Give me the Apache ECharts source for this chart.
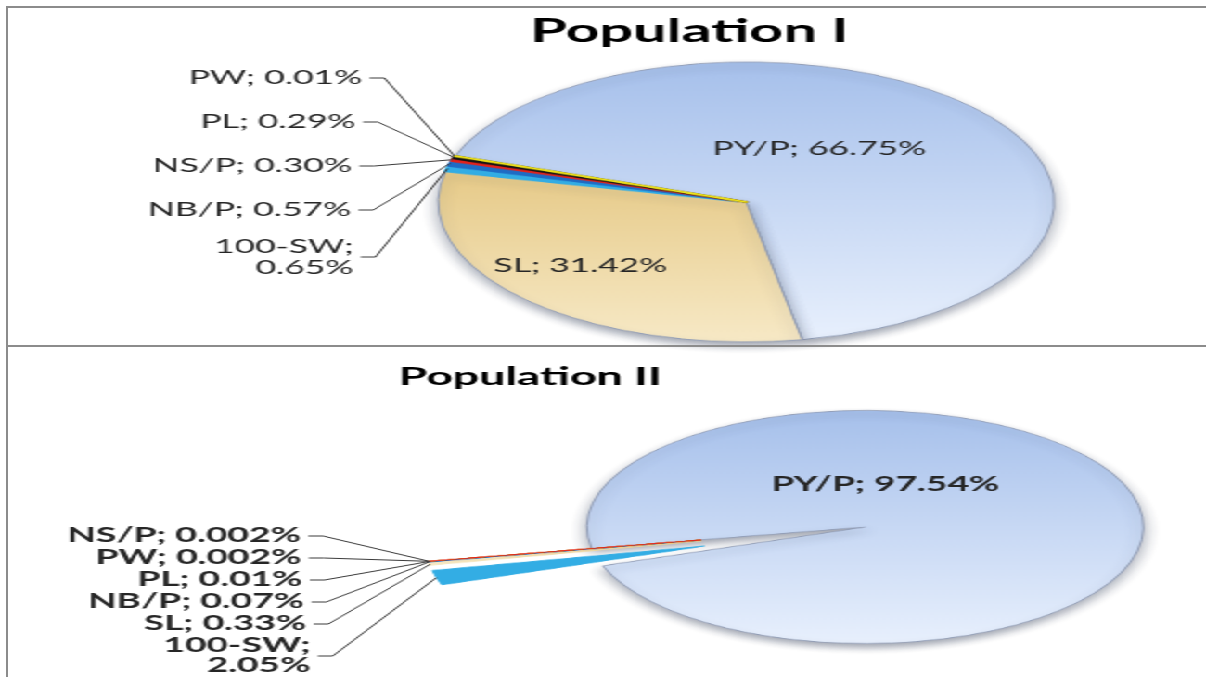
<!DOCTYPE html>
<html>
<head>
<meta charset="utf-8">
<title>Population I / Population II</title>
<script src="https://cdn.jsdelivr.net/npm/echarts@6/dist/echarts.min.js"></script>
<style>
  html, body { margin: 0; padding: 0; background: #fff; }
  body { width: 1206px; height: 677px; position: relative; overflow: hidden; }
  #stage { position: absolute; left: 0; top: 0; width: 650px; height: 677px; transform-origin: 0 0; }
  .pie { position: absolute; left: 0; top: 0; width: 650px; transform-origin: 0 0; }
  #labels { position: absolute; left: 0; top: 0; width: 650px; height: 677px; }
  .rule { position: absolute; background: #8c8c8c; }
</style>
</head>
<body>
<div id="stage">
  <div id="pieI" class="pie"></div>
  <div id="pieII" class="pie"></div>
  <div id="labels"></div>
</div>
<!-- frame lines around the two panels -->
<div class="rule" style="left:7px;top:6px;width:1199px;height:2px"></div>
<div class="rule" style="left:6px;top:6px;width:2px;height:671px"></div>
<div class="rule" style="left:7px;top:345px;width:1199px;height:2px"></div>
<script>
// ---- data ----
const titles = ['Population I', 'Population II'];

// Population I, in drawing order (clockwise from the start angle)
const catsI = ['PY/P', 'SL', '100-SW', 'NB/P', 'NS/P', 'PL', 'PW'];
const valsI = [66.75, 31.42, 0.65, 0.57, 0.30, 0.29, 0.01];

// Population II, in drawing order
const catsII = ['PY/P', '100-SW', 'SL', 'NB/P', 'PL', 'PW', 'NS/P'];
const valsII = [97.54, 2.05, 0.33, 0.07, 0.01, 0.002, 0.002];

// labels that break after the category name
const wrapNames = ['100-SW'];

// ---- look ----
const SX = 1206 / 650;   // the whole figure is drawn wide

function grad(top, bottom) {
  return new echarts.graphic.LinearGradient(0, 0, 0, 1, [
    { offset: 0, color: top }, { offset: 1, color: bottom }
  ]);
}
const sliceColors = {
  'PY/P': grad('#a6c0eb', '#e8f0fd'),
  'SL': grad('#e6ca88', '#f7e9c6'),
  '100-SW': '#33ade4',
  'NB/P': '#1f6cc4',
  'NS/P': '#e3221c',
  'PL': '#151515',
  'PW': '#efe21a'
};

const panels = [
  {
    el: 'pieI', cats: catsI, vals: valsI, title: titles[0],
    cx: 402.2, cy: 202, r: 166, tilt: 0.843, start: 160.8, explode: 0, bigCount: 2,
    sliver: 2.2,
    titleX: 366.6, titleTop: 11, titleSize: 32,
    font: { fontSize: 19, fontWeight: 'normal', lineHeight: 22, padding: [10, 0] },
    wrapFont: { lineHeight: 21, padding: [3, 0] },
    labelBox: { left: 0, top: 0, width: 650, height: 282 },
    len: 40, len2: 8,
    inner: { center: [375.6, 206], r: 168 }
  },
  {
    el: 'pieII', cats: catsII, vals: valsII, title: titles[1],
    cx: 466.3, cy: 527, r: 150, tilt: 0.777, start: 190.6, explode: 90, bigCount: 1,
    sliver: 1.0,
    titleX: 280.7, titleTop: 359, titleSize: 25,
    font: { fontSize: 20, fontWeight: 'bold', lineHeight: 20, padding: [0, 0] },
    wrapFont: { lineHeight: 20, padding: [0, 0] },
    labelBox: { left: 0, top: 0, width: 650, height: 677 },
    len: 58, len2: 8,
    inner: { center: [445.3, 492.8], r: 60 }
  }
];

function pct(v) { return v.toFixed(v < 0.01 ? 3 : 2) + '%'; }
function wraps(name) { return wrapNames.indexOf(name) >= 0; }
function labelText(p) {
  return p.name + ';' + (wraps(p.name) ? '\n' : ' ') + pct(p.value);
}
function sum(a) { return a.reduce((s, v) => s + v, 0); }

// ---- visible pies (drawn tall, then flattened by the tilt) ----
function pieSeries(p) {
  return {
    type: 'pie', silent: true, animation: false, clockwise: true,
    startAngle: p.start,
    center: [p.cx, p.cy / p.tilt], radius: p.r,
    selectedMode: p.explode > 0 ? 'multiple' : false,
    selectedOffset: p.explode,
    label: { show: false }, labelLine: { show: false },
    emphasis: { disabled: true },
    data: p.cats.map((name, i) => {
      const small = i >= p.bigCount;
      const c = sliceColors[name];
      return {
        name: name, value: p.vals[i],
        selected: small && p.explode > 0,
        itemStyle: small
          ? { color: c, borderColor: c, borderWidth: p.sliver }
          : { color: c, borderColor: '#8f9bb4', borderWidth: 1,
              shadowBlur: 8, shadowOffsetY: 5, shadowColor: 'rgba(50,60,85,0.45)' }
      };
    })
  };
}

// ---- label carriers: transparent pies that place the texts ----
function outerLabels(p) {
  const k = p.tilt;
  const total = sum(p.vals);
  const cumBig = sum(p.vals.slice(0, p.bigCount));
  const a0 = p.start - 360 * cumBig / total;
  const a1 = p.start - 360;
  const m = (a0 + a1) / 2 * Math.PI / 180;
  const reach = p.r + p.explode;
  return Object.assign({
    type: 'pie', silent: true, animation: false, clockwise: true,
    startAngle: p.start,
    center: [p.cx + reach * (1 - k) * Math.cos(m), p.cy],
    radius: reach * k,
    itemStyle: { color: 'rgba(0,0,0,0)' },
    emphasis: { disabled: true },
    label: Object.assign({
      show: true, position: 'outside', formatter: labelText,
      fontFamily: 'Lato', color: '#262626', overflow: 'none', distanceToLabelLine: 4
    }, p.font),
    labelLine: { show: true, length: p.len, length2: p.len2, smooth: false,
                 lineStyle: { color: '#3a3a3a', width: 1 } },
    data: p.cats.map((name, i) => ({
      name: name, value: p.vals[i],
      label: Object.assign({ show: i >= p.bigCount }, wraps(name) ? p.wrapFont : {}),
      labelLine: { show: i >= p.bigCount }
    }))
  }, p.labelBox);
}
function innerLabels(p) {
  return {
    type: 'pie', silent: true, animation: false, clockwise: true,
    startAngle: p.start,
    center: p.inner.center, radius: [0, p.inner.r],
    itemStyle: { color: 'rgba(0,0,0,0)' },
    emphasis: { disabled: true },
    label: Object.assign({
      show: true, position: 'inside', formatter: labelText,
      fontFamily: 'Lato', color: '#262626'
    }, p.font, { padding: 0 }),
    labelLine: { show: false },
    data: p.cats.map((name, i) => ({
      name: name, value: p.vals[i], label: { show: i < p.bigCount }
    }))
  };
}

document.getElementById('stage').style.transform = 'scaleX(' + SX + ')';

panels.forEach(p => {
  const el = document.getElementById(p.el);
  el.style.height = (677 / p.tilt) + 'px';
  el.style.transform = 'scaleY(' + p.tilt + ')';
  echarts.init(el).setOption({ animation: false, series: [pieSeries(p)] });
});

const labelChart = echarts.init(document.getElementById('labels'));
labelChart.setOption({
  animation: false,
  title: panels.map(p => ({
    text: p.title, left: p.titleX, top: p.titleTop, textAlign: 'center',
    textStyle: { fontFamily: 'Lato', fontWeight: 'bold', fontSize: p.titleSize, color: '#000' }
  })),
  series: panels.map(outerLabels).concat(panels.map(innerLabels))
});
</script>
</body>
</html>
